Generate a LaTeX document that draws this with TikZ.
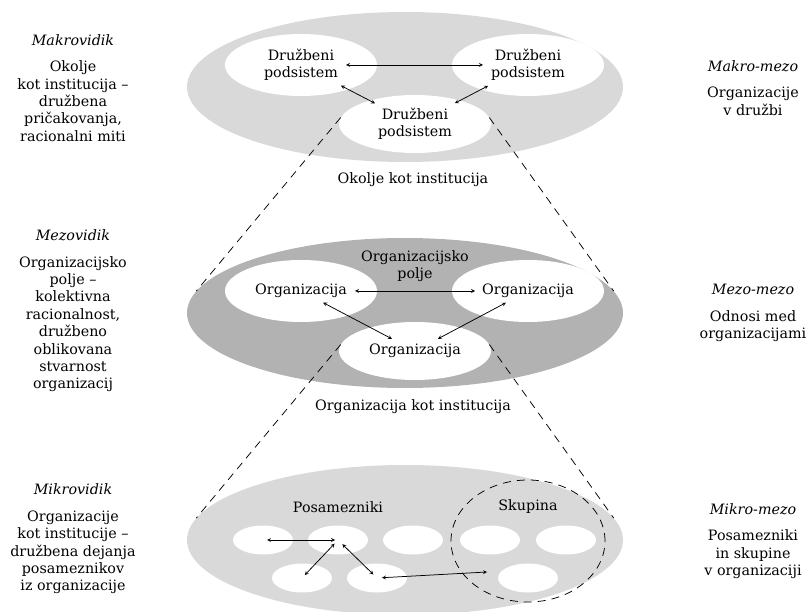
\documentclass[tikz,border=0pt]{standalone}
\usepackage{fontspec}
\setmainfont{DejaVu Serif}
\usetikzlibrary{shapes.geometric}

\begin{document}
\begin{tikzpicture}[x=1pt, y=-1pt, font=\fontsize{14.3}{17.4}\selectfont]
  % Define styles
  \tikzstyle{level} = [ellipse, minimum width=436pt, minimum height=150pt, inner sep=0pt]
  \tikzstyle{unit} = [ellipse, fill=white, minimum width=152pt, minimum height=62pt, inner sep=0pt, align=center]
  \tikzstyle{person} = [ellipse, fill=white, minimum width=60pt, minimum height=29pt, inner sep=0pt]
  \tikzstyle{side} = [align=center, inner sep=0pt]
  \tikzstyle{edge} = [<->, line width=0.75pt, >=stealth]
  \tikzstyle{cone} = [line width=0.75pt, dash pattern=on 8pt off 6pt]

  \useasboundingbox (0,0) rectangle (812,612);

  % Levels
  \node[level, fill=black!15] (makro) at (405,87) {};
  \node[level, fill=black!30] (mezo) at (405,313) {};
  \node[level, fill=black!15] (mikro) at (405,540) {};

  % Makro level
  \node[unit] (ds1) at (301,65) {Družbeni\\podsistem};
  \node[unit] (ds2) at (528,65) {Družbeni\\podsistem};
  \node[unit, minimum height=58pt] (ds3) at (415,124) {Družbeni\\podsistem};
  \node (okolje) at (413,180) {Okolje kot institucija};

  % Mezo level
  \node[align=center] (polje) at (415,266) {Organizacijsko\\polje};
  \node[unit] (org1) at (301,291) {Organizacija};
  \node[unit] (org2) at (528,291) {Organizacija};
  \node[unit, minimum height=58pt] (org3) at (415,351) {Organizacija};
  \node (orgins) at (413,407) {Organizacija kot institucija};

  % Mikro level
  \node (posam) at (338,507) {Posamezniki};
  \node (skup) at (528,507) {Skupina};
  \node[person] (p1) at (263,540) {};
  \node[person] (p2) at (338,540) {};
  \node[person] (p3) at (413,540) {};
  \node[person] (p6) at (490,540) {};
  \node[person] (p7) at (566,540) {};
  \node[person] (p4) at (302,578) {};
  \node[person] (p5) at (377,578) {};
  \node[person] (p8) at (528,578) {};
  \node[draw, ellipse, cone, minimum width=154pt, minimum height=122pt] (grp) at (528,541) {};
  \coordinate (aim) at (487,572);

  % Side texts
  \node[side] (makrov) at (73,88) {\textit{Makrovidik}\\[9pt]Okolje\\kot institucija –\\družbena\\pričakovanja,\\racionalni miti};
  \node[side] (mezov) at (73,311) {\textit{Mezovidik}\\[9pt]Organizacijsko\\polje –\\kolektivna\\racionalnost,\\družbeno\\oblikovana\\stvarnost\\organizacij};
  \node[side] (mikrov) at (73,539) {\textit{Mikrovidik}\\[9pt]Organizacije\\kot institucije –\\družbena dejanja\\posameznikov\\iz organizacije};
  \node[side] (makrom) at (753,88) {\textit{Makro-mezo}\\[9pt]Organizacije\\v družbi};
  \node[side] (mezom) at (753,313) {\textit{Mezo-mezo}\\[9pt]Odnosi med\\organizacijami};
  \node[side] (mikrom) at (753,541) {\textit{Mikro-mezo}\\[9pt]Posamezniki\\in skupine\\v organizaciji};

  % Edges
  \draw[edge, shorten <=45pt, shorten >=45pt] (ds1.center) -- (ds2.center);
  \draw[edge, shorten <=45pt, shorten >=45pt] (ds1.center) -- (ds3.center);
  \draw[edge, shorten <=45pt, shorten >=45pt] (ds2.center) -- (ds3.center);
  \draw[edge, shorten <=54pt, shorten >=53pt] (org1.center) -- (org2.center);
  \draw[edge, shorten <=25pt, shorten >=26pt] (org1.center) -- (org3.center);
  \draw[edge, shorten <=25pt, shorten >=26pt] (org2.center) -- (org3.center);
  \draw[edge, shorten <=4pt, shorten >=3pt] (p1.center) -- (p2.center);
  \draw[edge, shorten <=5pt, shorten >=4pt] (p2.center) -- (p4.center);
  \draw[edge, shorten <=6pt, shorten >=5pt] (p2.center) -- (p5.center);
  \draw[edge, shorten <=5pt] (p5.center) -- (aim);

  % Cones
  \draw[cone] (ds3.175) -- (mezo.174);
  \draw[cone] (ds3.5) -- (mezo.6);
  \draw[cone] (org3.175) -- (mikro.174);
  \draw[cone] (org3.5) -- (mikro.6);
\end{tikzpicture}
\end{document}
